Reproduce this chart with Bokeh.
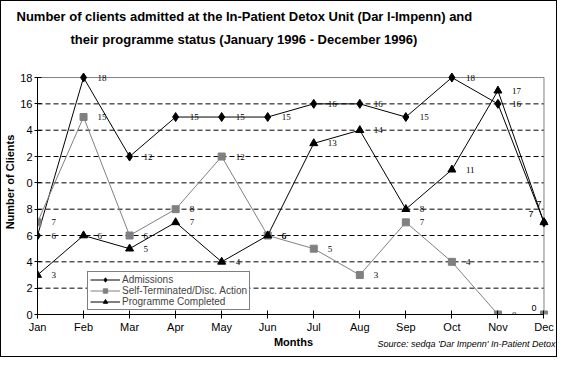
from bokeh.plotting import figure
from bokeh.models import (Range1d, FixedTicker, Label, LabelSet, Legend, LegendItem,
                          ColumnDataSource, Title)
from bokeh.embed import file_html
from bokeh.resources import INLINE

# ---------------- data ----------------
months = ["Jan", "Feb", "Mar", "Apr", "May", "Jun", "Jul", "Aug", "Sep", "Oct", "Nov", "Dec"]
admissions = [6, 18, 12, 15, 15, 15, 16, 16, 15, 18, 16, 7]
self_terminated = [7, 15, 6, 8, 12, 6, 5, 3, 7, 4, 0, 0]
completed = [3, 6, 5, 7, 4, 6, 13, 14, 8, 11, 17, 7]
y_ticks = [0, 2, 4, 6, 8, 10, 12, 14, 16, 18]
y_tick_labels = ["0", "2", "4", "6", "8", "0", "2", "4", "16", "18"]
series_names = ["Admissions", "Self-Terminated/Disc. Action", "Programme Completed"]
title_lines = ["Number of clients admitted at the In-Patient Detox Unit (Dar l-Impenn) and",
               "their programme status (January 1996 - December 1996)"]
x_title = "Months"
y_title = "Number of Clients"
source_text = "Source: sedqa 'Dar Impenn' In-Patient Detox"

FONT = "Liberation Sans"
GRAY = "#808080"

x = list(range(len(months)))
n = len(months) - 1
ymax = y_ticks[-1]

p = figure(width=557, height=357, output_backend="svg", toolbar_location=None,
           x_range=Range1d(0, n + 0.12), y_range=Range1d(0, ymax + 2.13),
           min_border_left=34, min_border_right=9, min_border_top=48, min_border_bottom=44)
p.styles = {"border": "1px solid black"}
p.outline_line_color = None
p.xgrid.visible = False
p.ygrid.visible = False
p.background_fill_color = "white"
p.border_fill_color = "white"

# dashed horizontal grid lines and gray plot-area border
p.segment(x0=0, x1=n, y0=y_ticks[1:-1], y1=y_ticks[1:-1],
          line_color="black", line_dash="5 3", line_width=1)
p.segment(x0=[0, n], y0=[ymax, 0], x1=[n, n], y1=[ymax, ymax],
          line_color=GRAY, line_width=1)

# axes
p.xaxis.ticker = FixedTicker(ticks=x)
p.xaxis.major_label_overrides = {i: m for i, m in enumerate(months)}
p.xaxis.bounds = (0, n)
p.xaxis.axis_label = x_title
p.yaxis.ticker = FixedTicker(ticks=y_ticks)
p.yaxis.major_label_overrides = dict(zip(y_ticks, y_tick_labels))
p.yaxis.bounds = (0, ymax)
p.yaxis.axis_label = y_title
for ax in (p.xaxis, p.yaxis):
    ax.axis_line_color = "black"
    ax.major_tick_line_color = "black"
    ax.major_tick_in = 4
    ax.major_tick_out = 4
    ax.minor_tick_line_color = None
    ax.major_label_text_font = FONT
    ax.major_label_text_font_size = "11px"
    ax.major_label_text_color = "black"
    ax.major_label_standoff = 2
    ax.axis_label_text_font = FONT
    ax.axis_label_text_font_size = "11px"
    ax.axis_label_text_font_style = "bold"
    ax.axis_label_text_color = "black"
    ax.axis_label_standoff = 0
p.yaxis.major_tick_out = 3
p.yaxis.axis_label_standoff = 1

# series
r1l = p.line(x, admissions, line_color="black", line_width=1)
r1m = p.scatter(x, admissions, marker="diamond", size=9, color="black")
r2l = p.line(x, self_terminated, line_color=GRAY, line_width=1)
r2m = p.scatter(x, self_terminated, marker="square", size=7, color=GRAY)
r3l = p.line(x, completed, line_color="black", line_width=1)
r3m = p.scatter(x, completed, marker="triangle", size=8, color="black")

# data labels
def add_labels(vals, dec_dx, dec_dy):
    src = ColumnDataSource(dict(x=x[:-1], y=vals[:-1], t=[str(v) for v in vals[:-1]]))
    p.add_layout(LabelSet(x="x", y="y", text="t", source=src, x_offset=14, y_offset=0,
                          text_baseline="middle", text_align="left",
                          text_font=FONT, text_font_size="9px", text_color="black"))
    p.add_layout(Label(x=x[-1], y=vals[-1], text=str(vals[-1]), x_offset=dec_dx, y_offset=dec_dy,
                       text_baseline="middle", text_align="center",
                       text_font=FONT, text_font_size="9px", text_color="black"))

add_labels(admissions, -13, 8)
add_labels(self_terminated, -10, 7)
add_labels(completed, -5, 18)

# legend
legend = Legend(items=[LegendItem(label=series_names[0], renderers=[r1l, r1m]),
                       LegendItem(label=series_names[1], renderers=[r2l, r2m]),
                       LegendItem(label=series_names[2], renderers=[r3l, r3m])],
                location=(50, 4))
legend.label_text_font = FONT
legend.label_text_font_size = "10px"
legend.label_height = 11
legend.glyph_height = 11
legend.glyph_width = 30
legend.spacing = 0
legend.padding = 2
legend.margin = 0
legend.label_standoff = 2
legend.border_line_color = "black"
legend.border_line_width = 1
legend.background_fill_color = "white"
legend.background_fill_alpha = 1
p.add_layout(legend)

# titles (last added is outermost)
p.add_layout(Title(text=title_lines[1], align="left", offset=33, standoff=6,
                   text_font=FONT, text_font_size="13px", text_font_style="bold",
                   text_color="black"), "above")
p.add_layout(Title(text=title_lines[0], align="left", offset=-21, standoff=6,
                   text_font=FONT, text_font_size="13px", text_font_style="bold",
                   text_color="black"), "above")

# source note (pulled up onto the "Months" row)
p.add_layout(Title(text=source_text, align="right", offset=-6, standoff=-24,
                   vertical_align="top",
                   text_font=FONT, text_font_size="9px", text_font_style="italic",
                   text_color="black"), "below")

open("out.html", "w").write(file_html(p, INLINE))
